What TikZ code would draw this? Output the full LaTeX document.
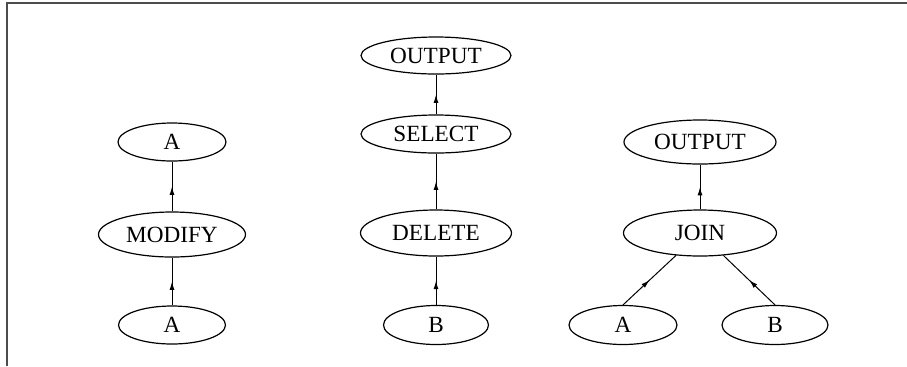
\documentclass[tikz,border=0pt]{standalone}
\usepackage{fontspec}
\setmainfont{Liberation Serif}
\usetikzlibrary{shapes.geometric,arrows.meta,decorations.markings}
\begin{document}
\begin{tikzpicture}[x=0.5pt,y=-0.5pt,
  op/.style={draw,ellipse,inner sep=0pt,line width=0.6pt,font=\fontsize{11.6}{13}\selectfont},
  midarrow/.style={line width=0.5pt,postaction={decorate},
    decoration={markings,mark=at position 0.5 with {\arrow{Latex[length=4.2pt,width=2.5pt]}}}}]
\useasboundingbox (0,0) rectangle (907,366);
% frame (top and left rules)
\draw[line width=0.6pt,black!70] (7,366) -- (7,3) -- (907,3);

% MODIFY tree
\node[op,minimum width=54pt,minimum height=19pt] (ltop) at (172,142) {A};
\node[op,minimum width=73.5pt,minimum height=22.5pt] (mod) at (172,234.5) {MODIFY};
\node[op,minimum width=53.5pt,minimum height=19pt] (lbot) at (172,325) {A};
\draw[midarrow] (lbot) -- (mod);
\draw[midarrow] (mod) -- (ltop);

% DELETE / SELECT tree
\node[op,minimum width=75pt,minimum height=18.5pt] (mout) at (436,55.5) {OUTPUT};
\node[op,minimum width=75pt,minimum height=19pt] (sel) at (436,134) {SELECT};
\node[op,minimum width=75.5pt,minimum height=23pt] (del) at (436,233) {DELETE};
\node[op,minimum width=52.5pt,minimum height=19.5pt] (mb) at (436,325) {B};
\draw[midarrow] (mb) -- (del);
\draw[midarrow] (del) -- (sel);
\draw[midarrow] (sel) -- (mout);

% JOIN tree
\node[op,minimum width=76pt,minimum height=22pt] (rout) at (700,142) {OUTPUT};
\node[op,minimum width=76.5pt,minimum height=23pt] (join) at (700,233) {JOIN};
\node[op,minimum width=54pt,minimum height=19.5pt] (ra) at (623,325) {A};
\node[op,minimum width=53pt,minimum height=19.5pt] (rb) at (775,325) {B};
\draw[midarrow] (join) -- (rout);
\draw[midarrow] (ra.north) -- (join);
\draw[midarrow] (rb.north) -- (join);
\end{tikzpicture}
\end{document}
